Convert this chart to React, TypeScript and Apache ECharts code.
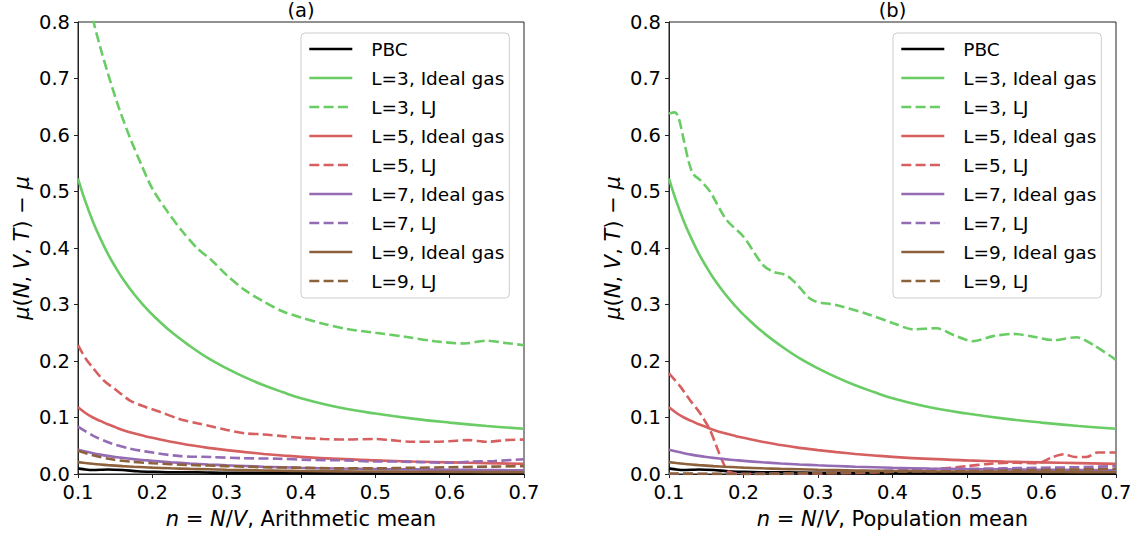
import React, { useEffect, useRef } from "react";
import * as echarts from "echarts";

// ---------- data ----------
const X_IDEAL = [0.1, 0.11, 0.12, 0.13, 0.14, 0.15, 0.16, 0.175, 0.19, 0.2, 0.225, 0.25, 0.275, 0.3, 0.325, 0.35, 0.375, 0.4, 0.45, 0.5, 0.55, 0.6, 0.65, 0.7];
const L3_IDEAL = [0.523, 0.482, 0.447, 0.417, 0.39, 0.367, 0.346, 0.319, 0.296, 0.282, 0.252, 0.227, 0.205, 0.187, 0.171, 0.157, 0.145, 0.134, 0.118, 0.107, 0.098, 0.091, 0.085, 0.08];
const L5_IDEAL = [0.118, 0.108, 0.1, 0.094, 0.088, 0.083, 0.078, 0.072, 0.067, 0.064, 0.057, 0.0513, 0.0463, 0.0423, 0.0387, 0.0355, 0.0328, 0.0303, 0.0267, 0.0242, 0.0222, 0.0206, 0.0192, 0.018];
const L7_IDEAL = [0.043, 0.0397, 0.0368, 0.0343, 0.0321, 0.0302, 0.0285, 0.0263, 0.0244, 0.0232, 0.0207, 0.0187, 0.0169, 0.0154, 0.0141, 0.0129, 0.0119, 0.011, 0.0097, 0.0088, 0.0081, 0.0075, 0.007, 0.0066];
const L9_IDEAL = [0.021, 0.0194, 0.018, 0.0168, 0.0157, 0.0148, 0.0139, 0.0128, 0.0119, 0.0113, 0.0101, 0.0091, 0.0083, 0.0075, 0.0069, 0.0063, 0.0058, 0.0054, 0.0047, 0.0043, 0.004, 0.0037, 0.0034, 0.0032];

const X_PBC = [0.1, 0.11, 0.12, 0.14, 0.16, 0.18, 0.2, 0.23, 0.26, 0.3, 0.35, 0.4, 0.5, 0.6, 0.7];
const PBC = [0.01, 0.008, 0.007, 0.008, 0.007, 0.005, 0.004, 0.003, 0.003, 0.002, 0.002, 0.002, 0.001, 0.001, 0.001];

// panel (a): arithmetic mean, LJ
const XA_L3_LJ = [0.1, 0.11, 0.12, 0.13, 0.14, 0.155, 0.17, 0.185, 0.2, 0.22, 0.24, 0.26, 0.28, 0.3, 0.325, 0.35, 0.375, 0.4, 0.43, 0.46, 0.5, 0.54, 0.58, 0.62, 0.65, 0.675, 0.7];
const A_L3_LJ = [0.93, 0.86, 0.805, 0.755, 0.71, 0.648, 0.595, 0.548, 0.505, 0.465, 0.43, 0.4, 0.378, 0.352, 0.325, 0.305, 0.288, 0.277, 0.266, 0.257, 0.25, 0.243, 0.235, 0.231, 0.236, 0.232, 0.228];
const XA_L5_LJ = [0.1, 0.11, 0.12, 0.135, 0.15, 0.17, 0.19, 0.21, 0.235, 0.26, 0.28, 0.3, 0.325, 0.35, 0.375, 0.4, 0.43, 0.46, 0.5, 0.52, 0.55, 0.58, 0.6, 0.625, 0.65, 0.675, 0.7];
const A_L5_LJ = [0.228, 0.205, 0.188, 0.165, 0.15, 0.13, 0.119, 0.11, 0.098, 0.09, 0.084, 0.078, 0.072, 0.07, 0.067, 0.064, 0.062, 0.061, 0.062, 0.06, 0.057, 0.057, 0.058, 0.06, 0.057, 0.06, 0.061];
const XA_L7_LJ = [0.1, 0.12, 0.145, 0.17, 0.19, 0.235, 0.28, 0.32, 0.37, 0.41, 0.46, 0.5, 0.53, 0.56, 0.6, 0.63, 0.66, 0.7];
const A_L7_LJ = [0.084, 0.068, 0.054, 0.045, 0.04, 0.032, 0.03, 0.028, 0.027, 0.025, 0.024, 0.022, 0.022, 0.021, 0.02, 0.022, 0.023, 0.026];
const XA_L9_LJ = [0.1, 0.12, 0.145, 0.17, 0.2, 0.25, 0.3, 0.35, 0.4, 0.45, 0.5, 0.55, 0.6, 0.65, 0.7];
const A_L9_LJ = [0.041, 0.033, 0.026, 0.022, 0.019, 0.016, 0.014, 0.012, 0.011, 0.01, 0.01, 0.011, 0.012, 0.013, 0.014];

// panel (b): population mean, LJ
const XB_L3_LJ = [0.1, 0.108, 0.113, 0.12, 0.127, 0.133, 0.142, 0.155, 0.177, 0.2, 0.226, 0.24, 0.257, 0.27, 0.292, 0.324, 0.364, 0.401, 0.428, 0.459, 0.482, 0.508, 0.535, 0.562, 0.589, 0.616, 0.647, 0.67, 0.7];
const B_L3_LJ = [0.638, 0.64, 0.63, 0.59, 0.55, 0.53, 0.52, 0.5, 0.45, 0.42, 0.37, 0.358, 0.352, 0.338, 0.308, 0.299, 0.284, 0.267, 0.256, 0.258, 0.246, 0.235, 0.244, 0.248, 0.243, 0.237, 0.242, 0.228, 0.202];
const XB_L5_LJ = [0.1, 0.115, 0.128, 0.142, 0.155, 0.164, 0.173, 0.18, 0.2, 0.25, 0.3, 0.35, 0.4, 0.43, 0.46, 0.5, 0.53, 0.56, 0.595, 0.615, 0.63, 0.645, 0.66, 0.675, 0.7];
const B_L5_LJ = [0.178, 0.155, 0.131, 0.107, 0.078, 0.048, 0.019, 0.004, 0.0, 0.0, 0.001, 0.002, 0.004, 0.007, 0.009, 0.014, 0.018, 0.02, 0.019, 0.03, 0.035, 0.03, 0.03, 0.038, 0.038];
const XB_L7_LJ = [0.1, 0.2, 0.3, 0.35, 0.4, 0.45, 0.5, 0.55, 0.6, 0.65, 0.7];
const B_L7_LJ = [0.0, 0.0, 0.002, 0.004, 0.006, 0.008, 0.009, 0.01, 0.011, 0.012, 0.014];
const XB_L9_LJ = [0.1, 0.2, 0.3, 0.4, 0.5, 0.6, 0.7];
const B_L9_LJ = [0.001, 0.0, 0.002, 0.004, 0.005, 0.007, 0.009];

const Y_TICKS = [0, 0.1, 0.2, 0.3, 0.4, 0.5, 0.6, 0.7, 0.8];
const NAMES = ["PBC", "L=3, Ideal gas", "L=3, LJ", "L=5, Ideal gas", "L=5, LJ", "L=7, Ideal gas", "L=7, LJ", "L=9, Ideal gas", "L=9, LJ"];
const COLORS = ["#000000", "#6acc64", "#6acc64", "#d65f5f", "#d65f5f", "#956cb4", "#956cb4", "#8c613c", "#8c613c"];
const PANEL_TITLES = ["(a)", "(b)"];
const X_NAMES = ["Arithmetic mean", "Population mean"];

const FONT = "DejaVu Sans";

const pairs = (xs: number[], ys: number[]) => xs.map((x, i) => [x, ys[i]]);

export default function App() {
  const ref = useRef<HTMLDivElement>(null);
  useEffect(() => {
    if (!ref.current) return;
    const chart = echarts.init(ref.current, null, { renderer: "svg" });

    const panelData = [
      [pairs(X_PBC, PBC), pairs(X_IDEAL, L3_IDEAL), pairs(XA_L3_LJ, A_L3_LJ), pairs(X_IDEAL, L5_IDEAL), pairs(XA_L5_LJ, A_L5_LJ), pairs(X_IDEAL, L7_IDEAL), pairs(XA_L7_LJ, A_L7_LJ), pairs(X_IDEAL, L9_IDEAL), pairs(XA_L9_LJ, A_L9_LJ)],
      [pairs(X_PBC, PBC), pairs(X_IDEAL, L3_IDEAL), pairs(XB_L3_LJ, B_L3_LJ), pairs(X_IDEAL, L5_IDEAL), pairs(XB_L5_LJ, B_L5_LJ), pairs(X_IDEAL, L7_IDEAL), pairs(XB_L7_LJ, B_L7_LJ), pairs(X_IDEAL, L9_IDEAL), pairs(XB_L9_LJ, B_L9_LJ)],
    ];

    const series: any[] = [];
    panelData.forEach((data, p) => {
      data.forEach((d, i) => {
        const dashed = i > 0 && i % 2 === 0;
        series.push({
          type: "line",
          name: NAMES[i],
          xAxisIndex: p,
          yAxisIndex: p,
          data: d,
          symbol: "none",
          showSymbol: false,
          smooth: i === 0 ? 0.2 : dashed ? 0.3 : 0.4,
          clip: true,
          lineStyle: {
            color: COLORS[i],
            width: 2.6,
            type: dashed ? [10, 4.3] : "solid",
          },
          itemStyle: { color: COLORS[i] },
          z: 2 + i,
        });
      });
    });

    const grids = [
      { left: 78, right: 618, top: 22, bottom: 61 },
      { left: 669, right: 26, top: 22, bottom: 61 },
    ];

    const tickLabel = { color: "#000", fontSize: 19.5, fontFamily: FONT };
    const nameStyle = {
      color: "#000",
      fontSize: 21,
      fontFamily: FONT,
      rich: { i: { fontStyle: "italic", fontSize: 21, fontFamily: FONT, color: "#000" } },
    };

    const xAxes = [0, 1].map((p) => ({
      type: "value",
      gridIndex: p,
      min: 0.1,
      max: 0.7,
      interval: 0.1,
      name: "{i|n} = {i|N}/{i|V}, " + X_NAMES[p],
      nameLocation: "middle",
      nameGap: 34,
      nameTextStyle: nameStyle,
      axisLine: { show: true, onZero: false, lineStyle: { color: "#222", width: 1 } },
      axisTick: { show: true, inside: false, length: 4, lineStyle: { color: "#222" } },
      axisLabel: { ...tickLabel, margin: 8, formatter: (v: number) => v.toFixed(1) },
      splitLine: { show: false },
    }));

    const yAxes = [0, 1].map((p) => ({
      type: "value",
      gridIndex: p,
      min: Y_TICKS[0],
      max: Y_TICKS[Y_TICKS.length - 1],
      interval: 0.1,
      name: "{i|μ}({i|N}, {i|V}, {i|T}) − {i|μ}",
      nameLocation: "middle",
      nameRotate: 90,
      nameGap: 46,
      nameTextStyle: nameStyle,
      axisLine: { show: true, onZero: false, lineStyle: { color: "#222", width: 1 } },
      axisTick: { show: true, inside: false, length: 4, lineStyle: { color: "#222" } },
      axisLabel: { ...tickLabel, margin: 8, formatter: (v: number) => v.toFixed(1) },
      splitLine: { show: false },
    }));

    const legends = [301, 893].map((left) => ({
      left,
      top: 33,
      orient: "vertical",
      data: NAMES,
      itemWidth: 43,
      itemHeight: 14,
      itemGap: 9,
      selectedMode: false,
      padding: [6, 5, 7, 7],
      backgroundColor: "rgba(255,255,255,0.85)",
      borderColor: "#cccccc",
      borderWidth: 1,
      borderRadius: 4,
      itemStyle: { opacity: 0 },
      lineStyle: { width: 2.6 },
      textStyle: { color: "#000", fontSize: 18.5, fontFamily: FONT, lineHeight: 20, padding: [0, 0, 0, 14] },
    }));

    chart.setOption({
      animation: false,
      backgroundColor: "#ffffff",
      textStyle: { fontFamily: FONT },
      grid: grids.map((g) => ({ ...g, show: true, borderColor: "#222", borderWidth: 1, backgroundColor: "transparent" })),
      xAxis: xAxes,
      yAxis: yAxes,
      legend: legends,
      series,
      graphic: PANEL_TITLES.map((t, p) => ({
        type: "text",
        x: p === 0 ? 301 : 892.5,
        y: 10,
        style: { text: t, fontSize: 19.5, fontFamily: FONT, fill: "#000", textAlign: "center", textVerticalAlign: "middle" },
      })),
    });

    return () => chart.dispose();
  }, []);

  return <div ref={ref} style={{ position: "fixed", left: 0, top: 0, width: 1142, height: 535 }} />;
}
